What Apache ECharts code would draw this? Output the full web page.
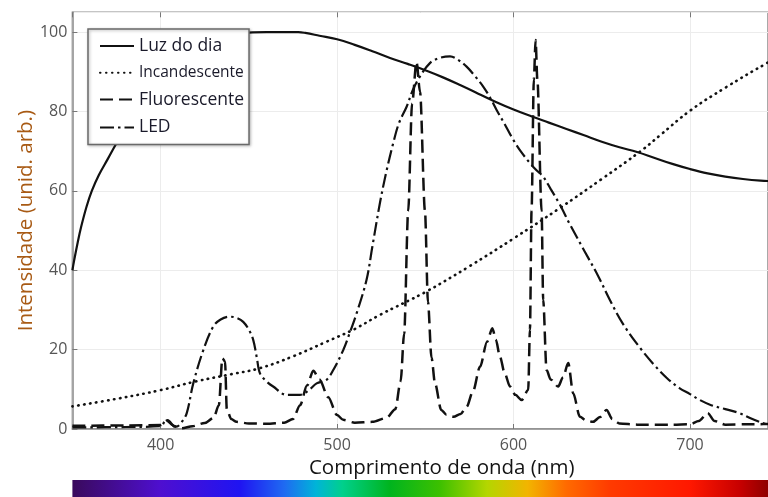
<!DOCTYPE html>
<html><head><meta charset="utf-8">
<script src="https://cdn.jsdelivr.net/npm/echarts@6/dist/echarts.min.js"></script>
<style>html,body{margin:0;padding:0;background:#fff}#c{width:768px;height:497px}</style>
</head><body><div id="c"></div>
<script>
// Data: [wavelength nm, relative intensity]
const seriesNames = ['Luz do dia', 'Incandescente', 'Fluorescente', 'LED'];
const luzDoDia = [[350,40],[351,42.5],[353,47],[355,51],[358,56],[361,60],[365,64],[370,68],[375,72],[380,75.5],[390,81.5],[400,86.5],[410,90.5],[420,94],[430,96.8],[440,98.8],[445,99.6],[450,99.9],[460,100],[470,100],[478,100],[482,99.8],[490,99.1],[500,98.2],[510,96.8],[520,95.2],[530,93.5],[540,92],[550,90.4],[560,88.6],[570,86.6],[580,84.5],[590,82.4],[600,80.5],[610,78.8],[620,77.2],[630,75.6],[640,74],[650,72.4],[660,71],[670,69.8],[680,68.3],[690,66.8],[700,65.5],[710,64.4],[720,63.6],[730,63],[740,62.6],[750,62.4]];
const incandescente = [[350,5.7],[375,7.6],[400,9.8],[420,12],[440,13.8],[456,15.3],[475,18.3],[494,22],[510,25.2],[524,28.7],[550,34.5],[575,41],[600,48],[626,55.6],[650,63],[672,70],[683,74],[700,80.2],[720,86],[744,92.3],[750,93.6]];
const fluorescente = [[350,0.8],[380,0.9],[400,1.0],[404,2.2],[408,0.6],[412,0.2],[418,0.7],[425,1.5],[430,2.8],[433,6],[435,17.8],[436.5,17],[437.5,5],[440,2.5],[443,1.8],[450,1.4],[460,1.3],[470,1.6],[475,2.5],[479,6],[483,11],[486.5,14.7],[490,12.5],[495,8],[500,3.5],[503.5,2.3],[510,1.6],[520,1.8],[528,2.8],[533,5],[536,12],[538,24],[540.3,55],[542.5,82],[545,92.5],[547,85],[549.8,55],[551.5,32],[553.5,18],[555.5,11.5],[559,4.8],[562,3.6],[566,3.1],[570,3.8],[573.4,5.6],[577,9.5],[581,15.7],[585,22],[588,25.4],[590,22.5],[592.3,18.2],[595,14],[598,10.7],[601,8.6],[604.6,7.3],[608.3,9.8],[609.3,25],[610.2,55],[611.5,88],[612.5,98],[613.5,88],[615.9,55],[616.8,32.5],[618.7,14.9],[621,12.5],[625.3,10.7],[628,13],[631,16.6],[633.8,9],[637.6,3.1],[641,2.2],[645,1.8],[649,3],[652.7,4.8],[656,2.5],[660,1.4],[670,1.1],[690,1.1],[700,1.2],[705,2],[710,4],[714,2],[720,1.1],[735,1.2],[750,1.3]];
const led = [[350,0.4],[380,0.5],[400,0.7],[403,2.2],[406,1.2],[409,0.6],[412,1.8],[414.8,4],[418.5,11.5],[424.2,19.9],[429.8,25.8],[434,27.6],[439.3,28.3],[443,28],[446.8,27],[450,25],[452.5,22.4],[454.5,18],[456.3,14],[460,12],[463.8,10.7],[471.4,8.6],[479,8.6],[484,9.8],[488.4,11.5],[494,12.4],[498,15],[503.5,19.9],[507,24],[511.1,29.2],[516.7,37.6],[520,46],[524.3,57],[528,65],[531.8,72],[535,77],[539.4,81.2],[543,85.5],[546.9,88.8],[552.6,92.2],[558,93.5],[564,93.9],[568,93.2],[573.4,91.3],[578,89],[582.8,86.3],[586.6,83.6],[590.4,80.4],[595,76.8],[599.8,72.9],[604,70],[609.3,67],[613,65.2],[616.8,63.6],[621,60.5],[626.3,56.5],[632,51.5],[640,45],[648,38.5],[654.6,32.5],[662,26.5],[671.6,20.5],[680,16],[687,12.8],[694,10.3],[700,8.8],[705.6,7.3],[712,6],[720,5],[728,4],[735,2.6],[743.4,1.2],[750,0.8]];
// visible spectrum colour bar stops: [wavelength nm, colour]
const spectrumStops = [[350,'#3a0a5c'],[400,'#4e0fd0'],[445,'#1f14f2'],[470,'#1f6af2'],[488,'#00b4d8'],[503,'#00d08c'],[530,'#00b41e'],[558,'#3cc000'],[585,'#b4d600'],[608,'#f2b400'],[630,'#ff6a00'],[655,'#ff3a00'],[700,'#ff1800'],[728,'#c80000'],[750,'#7a0000']];
// axis ranges (the picture is cropped on the right at ~744 nm)
const xMin = 350, xMax = 744.2, specMax = 750, yMin = 0, yMax = 105, yStep = 20;

const chart = echarts.init(document.getElementById('c'), null, {renderer: 'canvas'});
const FONT = 'Open Sans';
const ink = '#111';
function lineSeries(name, data, lineStyle, smoothOpt) {
  return Object.assign({name, type: 'line', data, symbol: 'none', clip: true,
    lineStyle: Object.assign({color: ink}, lineStyle), itemStyle: {color: ink}, z: 3}, smoothOpt);
}
chart.setOption({
  animation: false,
  backgroundColor: '#fff',
  grid: [
    {left: 72.4, right: 0, top: 12.3, bottom: 68, show: true, borderColor: '#8c8c8c', borderWidth: 1.5, backgroundColor: '#fff'},
    {left: 72.4, right: 0, top: 480, height: 20}
  ],
  xAxis: [
    {gridIndex: 0, type: 'value', min: xMin, max: xMax, splitNumber: 4,
      name: 'Comprimento de onda (nm)', nameLocation: 'middle', nameGap: 21,
      nameTextStyle: {fontFamily: FONT, fontSize: 20.5, color: '#141414', padding: [0, 0, 0, 43]},
      axisLine: {lineStyle: {color: '#8c8c8c', width: 1.5}},
      axisTick: {inside: true, length: 5, lineStyle: {color: '#777'}},
      axisLabel: {fontFamily: FONT, fontSize: 16, color: '#555', margin: 8, showMinLabel: false, showMaxLabel: false},
      splitLine: {show: true, lineStyle: {color: '#ececec', width: 1}}},
    {gridIndex: 0, type: 'value', min: xMin, max: xMax, splitNumber: 4, position: 'top',
      axisLine: {show: false}, axisTick: {inside: true, length: 5, lineStyle: {color: '#777'}},
      axisLabel: {show: false}, splitLine: {show: false}},
    {gridIndex: 1, type: 'value', min: xMin, max: xMax, interval: 50, position: 'top',
      axisLine: {show: true, lineStyle: {color: '#999', width: 1}},
      axisTick: {inside: true, length: 3, lineStyle: {color: '#222', width: 1.5}},
      axisLabel: {show: false}, splitLine: {show: false}, z: 10}
  ],
  yAxis: [
    {gridIndex: 0, type: 'value', min: yMin, max: yMax, interval: yStep,
      name: 'Intensidade (unid. arb.)', nameLocation: 'middle', nameGap: 36, nameMoveOverlap: false,
      nameTextStyle: {fontFamily: FONT, fontSize: 20.5, color: '#a85a14'},
      axisLine: {show: true, lineStyle: {color: '#8c8c8c', width: 1.5}},
      axisTick: {show: true, inside: true, length: 5, lineStyle: {color: '#777'}},
      axisLabel: {fontFamily: FONT, fontSize: 16, color: '#555', margin: 5, showMaxLabel: false},
      splitLine: {show: true, lineStyle: {color: '#ececec', width: 1}}},
    {gridIndex: 1, type: 'value', min: 0, max: 1, show: false}
  ],
  legend: {
    data: [
      {name: seriesNames[0], textStyle: {fontSize: 17.5}},
      {name: seriesNames[1], textStyle: {fontSize: 15.5}},
      {name: seriesNames[2], textStyle: {fontSize: 17.5}},
      {name: seriesNames[3], textStyle: {fontSize: 17.5}}
    ],
    orient: 'vertical', left: 88, top: 29,
    itemWidth: 34, itemHeight: 16, itemGap: 9.8, itemTextGap: 11,
    padding: [8, 5, 8, 11],
    itemStyle: {opacity: 0},
    backgroundColor: '#fff', borderColor: '#6a6a6a', borderWidth: 1.5,
    shadowBlur: 3, shadowColor: 'rgba(0,0,0,0.3)', shadowOffsetX: 1, shadowOffsetY: 1,
    textStyle: {fontFamily: FONT, color: '#1a1a2a'}
  },
  series: [
    lineSeries(seriesNames[0], luzDoDia, {width: 2.2, type: 'solid'}, {smooth: 0.4}),
    lineSeries(seriesNames[1], incandescente, {width: 2.6, type: [0.5, 5.5], cap: 'round'}, {smooth: 0.4}),
    lineSeries(seriesNames[2], fluorescente, {width: 2.5, type: [13, 6]}, {smooth: 0.3, smoothMonotone: 'x'}),
    lineSeries(seriesNames[3], led, {width: 2.2, type: [14, 4, 2.5, 4]}, {smooth: 0.35}),
    {name: 'espectro', type: 'line', xAxisIndex: 2, yAxisIndex: 1, silent: true, symbol: 'none', clip: true,
      data: [[xMin, 1], [specMax, 1]], lineStyle: {width: 0},
      areaStyle: {opacity: 1, color: {type: 'linear', x: 0, y: 0, x2: 1, y2: 0,
        colorStops: spectrumStops.map(s => ({offset: (s[0] - xMin) / (specMax - xMin), color: s[1]}))}}}
  ]
});
</script>
</body></html>
